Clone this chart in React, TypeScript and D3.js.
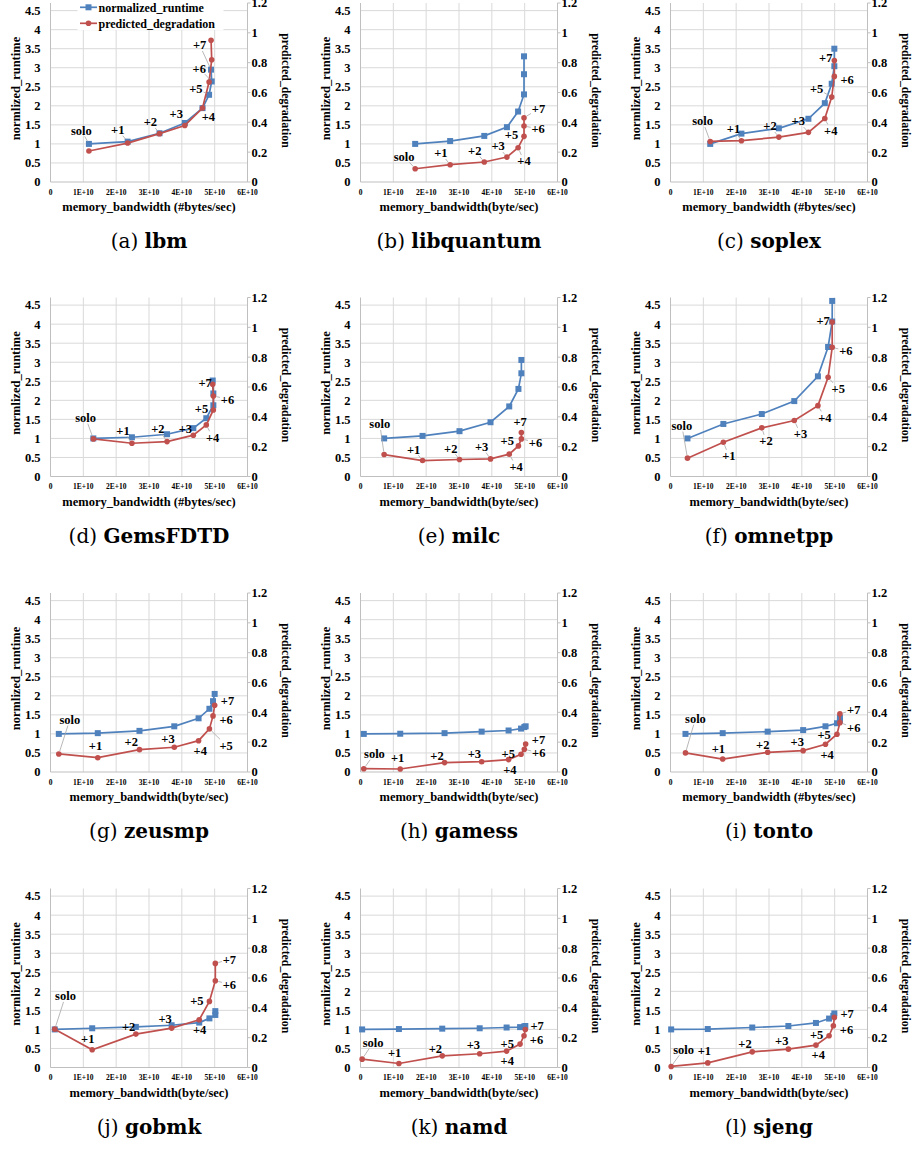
import React from 'react';
import * as d3 from 'd3';

// co-run steps, same for every benchmark
const steps = ['solo', '+1', '+2', '+3', '+4', '+5', '+6', '+7'];

const xTickValues = [0, 1e10, 2e10, 3e10, 4e10, 5e10, 6e10];
const leftTickValues = [0, 0.5, 1, 1.5, 2, 2.5, 3, 3.5, 4, 4.5];
const rightTickValues = [0, 0.2, 0.4, 0.6, 0.8, 1, 1.2];

// memory bandwidth (byte/sec), normalized runtime, predicted degradation
const lbmBandwidth = [1.17e10, 2.35e10, 3.32e10, 4.09e10, 4.63e10, 4.83e10, 4.91e10, 4.89e10];
const lbmRuntime = [1.0, 1.06, 1.28, 1.55, 1.94, 2.29, 2.64, 2.95];
const lbmDegradation = [0.208, 0.261, 0.324, 0.379, 0.496, 0.67, 0.82, 0.95];
const lbmLabelAt = [[0.94e10, 1.355], [2.05e10, 1.373], [3.04e10, 1.573], [3.83e10, 1.79], [4.81e10, 1.72], [4.43e10, 2.46], [4.53e10, 2.99], [4.54e10, 3.6]];

const libquantumBandwidth = [1.665e10, 2.73e10, 3.77e10, 4.46e10, 4.8e10, 4.98e10, 4.98e10, 4.98e10];
const libquantumRuntime = [1.0, 1.075, 1.21, 1.44, 1.85, 2.3, 2.83, 3.3];
const libquantumDegradation = [0.089, 0.116, 0.134, 0.167, 0.23, 0.306, 0.375, 0.431];
const libquantumLabelAt = [[1.33e10, 0.673], [2.45e10, 0.76], [3.48e10, 0.83], [4.19e10, 0.944], [4.98e10, 0.55], [4.6e10, 1.24], [5.41e10, 1.4], [5.42e10, 1.92]];

const soplexBandwidth = [1.21e10, 2.16e10, 3.3e10, 4.2e10, 4.7e10, 4.91e10, 4.99e10, 4.99e10];
const soplexRuntime = [1.0, 1.27, 1.41, 1.66, 2.07, 2.58, 3.04, 3.5];
const soplexDegradation = [0.272, 0.277, 0.301, 0.333, 0.426, 0.569, 0.708, 0.815];
const soplexLabelAt = [[0.98e10, 1.6], [1.92e10, 1.4], [3.03e10, 1.47], [3.89e10, 1.6], [4.88e10, 1.355], [4.45e10, 2.46], [5.38e10, 2.68], [4.73e10, 3.26]];

const gemsBandwidth = [1.305e10, 2.48e10, 3.55e10, 4.35e10, 4.745e10, 4.96e10, 4.96e10, 4.94e10];
const gemsRuntime = [1.0, 1.03, 1.11, 1.27, 1.53, 1.87, 2.18, 2.52];
const gemsDegradation = [0.252, 0.223, 0.234, 0.277, 0.346, 0.446, 0.54, 0.618];
const gemsLabelAt = [[1.07e10, 1.547], [2.21e10, 1.21], [3.27e10, 1.27], [4.11e10, 1.27], [4.94e10, 1.03], [4.6e10, 1.77], [5.39e10, 2.03], [4.71e10, 2.47]];

const milcBandwidth = [0.72e10, 1.89e10, 3.015e10, 3.96e10, 4.53e10, 4.81e10, 4.9e10, 4.9e10];
const milcRuntime = [1.0, 1.066, 1.19, 1.425, 1.84, 2.3, 2.71, 3.06];
const milcDegradation = [0.147, 0.107, 0.114, 0.118, 0.15, 0.205, 0.252, 0.295];
const milcLabelAt = [[0.587e10, 1.38], [1.62e10, 0.717], [2.75e10, 0.743], [3.69e10, 0.787], [4.74e10, 0.262], [4.47e10, 0.944], [5.33e10, 0.9], [4.86e10, 1.44]];

const omnetppBandwidth = [0.517e10, 1.61e10, 2.78e10, 3.77e10, 4.49e10, 4.8e10, 4.925e10, 4.925e10];
const omnetppRuntime = [1.0, 1.38, 1.64, 1.98, 2.63, 3.4, 4.07, 4.61];
const omnetppDegradation = [0.123, 0.23, 0.326, 0.375, 0.475, 0.665, 0.866, 1.036];
const omnetppLabelAt = [[0.345e10, 1.337], [1.78e10, 0.542], [2.91e10, 0.935], [3.96e10, 1.12], [4.7e10, 1.55], [5.11e10, 2.3], [5.34e10, 3.3], [4.65e10, 4.09]];

const zeusmpBandwidth = [0.253e10, 1.44e10, 2.71e10, 3.77e10, 4.51e10, 4.84e10, 4.95e10, 5.0e10];
const zeusmpRuntime = [1.0, 1.02, 1.08, 1.2, 1.41, 1.66, 1.86, 2.05];
const zeusmpDegradation = [0.121, 0.096, 0.15, 0.166, 0.21, 0.289, 0.376, 0.447];
const zeusmpLabelAt = [[0.59e10, 1.38], [1.37e10, 0.7], [2.46e10, 0.787], [3.58e10, 0.874], [4.56e10, 0.55], [5.35e10, 0.7], [5.35e10, 1.37], [5.39e10, 1.88]];

const gamessBandwidth = [0.1e10, 1.21e10, 2.56e10, 3.69e10, 4.51e10, 4.89e10, 4.99e10, 5.03e10];
const gamessRuntime = [1.0, 1.005, 1.02, 1.06, 1.09, 1.14, 1.18, 1.2];
const gamessDegradation = [0.022, 0.02, 0.063, 0.069, 0.083, 0.119, 0.152, 0.188];
const gamessLabelAt = [[0.425e10, 0.48], [1.13e10, 0.376], [2.33e10, 0.437], [3.47e10, 0.48], [4.55e10, 0.061], [4.5e10, 0.48], [5.43e10, 0.507], [5.42e10, 0.848]];

const tontoBandwidth = [0.456e10, 1.59e10, 2.96e10, 4.04e10, 4.72e10, 5.07e10, 5.16e10, 5.16e10];
const tontoRuntime = [1.0, 1.02, 1.06, 1.1, 1.2, 1.28, 1.35, 1.43];
const tontoDegradation = [0.128, 0.087, 0.132, 0.143, 0.186, 0.253, 0.331, 0.39];
const tontoLabelAt = [[0.76e10, 1.4], [1.46e10, 0.612], [2.81e10, 0.717], [3.86e10, 0.787], [4.77e10, 0.455], [4.68e10, 0.98], [5.58e10, 1.17], [5.58e10, 1.63]];

const gobmkBandwidth = [0.13e10, 1.27e10, 2.6e10, 3.69e10, 4.53e10, 4.84e10, 5.02e10, 5.02e10];
const gobmkRuntime = [1.0, 1.03, 1.066, 1.11, 1.18, 1.29, 1.38, 1.48];
const gobmkDegradation = [0.257, 0.119, 0.224, 0.264, 0.32, 0.443, 0.582, 0.698];
const gobmkLabelAt = [[0.456e10, 1.88], [1.135e10, 0.77], [2.38e10, 1.066], [3.49e10, 1.285], [4.54e10, 1.005], [4.46e10, 1.766], [5.45e10, 2.185], [5.45e10, 2.84]];

const namdBandwidth = [0.05e10, 1.17e10, 2.49e10, 3.63e10, 4.45e10, 4.86e10, 4.98e10, 5.02e10];
const namdRuntime = [1.0, 1.01, 1.02, 1.03, 1.05, 1.06, 1.075, 1.09];
const namdDegradation = [0.056, 0.027, 0.078, 0.092, 0.11, 0.157, 0.213, 0.255];
const namdLabelAt = [[0.385e10, 0.656], [1.04e10, 0.393], [2.28e10, 0.507], [3.44e10, 0.594], [4.47e10, 0.192], [4.47e10, 0.63], [5.36e10, 0.743], [5.38e10, 1.11]];

const sjengBandwidth = [0.02e10, 1.135e10, 2.49e10, 3.59e10, 4.43e10, 4.83e10, 4.96e10, 4.99e10];
const sjengRuntime = [1.0, 1.01, 1.05, 1.09, 1.17, 1.285, 1.355, 1.42];
const sjengDegradation = [0.007, 0.031, 0.105, 0.123, 0.15, 0.213, 0.28, 0.336];
const sjengLabelAt = [[0.4e10, 0.48], [1.03e10, 0.437], [2.27e10, 0.63], [3.39e10, 0.7], [4.5e10, 0.332], [4.45e10, 0.857], [5.36e10, 1.005], [5.38e10, 1.425]];

const BYTES = 'memory_bandwidth (#bytes/sec)';
const BYTE = 'memory_bandwidth(byte/sec)';

const panels = [
  { tag: '(a)', name: 'lbm', bw: lbmBandwidth, rt: lbmRuntime, deg: lbmDegradation, labelAt: lbmLabelAt, xTitle: BYTES, leaderTo: 'rt', legend: true },
  { tag: '(b)', name: 'libquantum', bw: libquantumBandwidth, rt: libquantumRuntime, deg: libquantumDegradation, labelAt: libquantumLabelAt, xTitle: BYTE },
  { tag: '(c)', name: 'soplex', bw: soplexBandwidth, rt: soplexRuntime, deg: soplexDegradation, labelAt: soplexLabelAt, xTitle: BYTES },
  { tag: '(d)', name: 'GemsFDTD', bw: gemsBandwidth, rt: gemsRuntime, deg: gemsDegradation, labelAt: gemsLabelAt, xTitle: BYTES },
  { tag: '(e)', name: 'milc', bw: milcBandwidth, rt: milcRuntime, deg: milcDegradation, labelAt: milcLabelAt, xTitle: BYTE },
  { tag: '(f)', name: 'omnetpp', bw: omnetppBandwidth, rt: omnetppRuntime, deg: omnetppDegradation, labelAt: omnetppLabelAt, xTitle: BYTE },
  { tag: '(g)', name: 'zeusmp', bw: zeusmpBandwidth, rt: zeusmpRuntime, deg: zeusmpDegradation, labelAt: zeusmpLabelAt, xTitle: BYTE },
  { tag: '(h)', name: 'gamess', bw: gamessBandwidth, rt: gamessRuntime, deg: gamessDegradation, labelAt: gamessLabelAt, xTitle: BYTE },
  { tag: '(i)', name: 'tonto', bw: tontoBandwidth, rt: tontoRuntime, deg: tontoDegradation, labelAt: tontoLabelAt, xTitle: BYTES },
  { tag: '(j)', name: 'gobmk', bw: gobmkBandwidth, rt: gobmkRuntime, deg: gobmkDegradation, labelAt: gobmkLabelAt, xTitle: BYTE },
  { tag: '(k)', name: 'namd', bw: namdBandwidth, rt: namdRuntime, deg: namdDegradation, labelAt: namdLabelAt, xTitle: BYTE },
  { tag: '(l)', name: 'sjeng', bw: sjengBandwidth, rt: sjengRuntime, deg: sjengDegradation, labelAt: sjengLabelAt, xTitle: BYTE },
];

const colLeft = [50.5, 360.5, 670.5];
const rowTop = [3, 297.5, 593, 888.5];
const plotW = 197;
const plotH = 179;

const BLUE = '#4F81BD';
const RED = '#C0504D';
const GRID = '#D9D9D9';
const AXIS = '#BFBFBF';
const FONT = '"Liberation Serif", "Times New Roman", serif';
const CAPTION_FONT = '"DejaVu Serif", serif';

const x = d3.scaleLinear().domain([0, 6e10]).range([0, plotW]);
const yL = d3.scaleLinear().domain([0, 4.7]).range([plotH, 0]);
const yR = d3.scaleLinear().domain([0, 1.2]).range([plotH, 0]);

const fmtX = (v: number) => (v === 0 ? '0' : `${Math.round(v / 1e10)}E+10`);
const fmtY = (v: number) => `${+v.toFixed(1)}`;

function Panel({ p, left, top }: any) {
  const idx = d3.range(p.bw.length);
  const blueLine = d3.line<number>().x(i => x(p.bw[i])).y(i => yL(p.rt[i]));
  const redLine = d3.line<number>().x(i => x(p.bw[i])).y(i => yR(p.deg[i]));

  return (
    <g transform={`translate(${left},${top})`} fontFamily={FONT} fontWeight="bold">
      {/* grid */}
      {leftTickValues.slice(1).map(v => (
        <line key={'h' + v} x1={0} x2={plotW} y1={yL(v)} y2={yL(v)} stroke={GRID} strokeWidth={1} />
      ))}
      {xTickValues.slice(1, -1).map(v => (
        <line key={'v' + v} x1={x(v)} x2={x(v)} y1={0} y2={plotH} stroke={GRID} strokeWidth={1} />
      ))}
      <line x1={0} x2={0} y1={0} y2={plotH} stroke={AXIS} />
      <line x1={plotW} x2={plotW} y1={0} y2={plotH} stroke={AXIS} />
      <line x1={0} x2={plotW} y1={plotH} y2={plotH} stroke={AXIS} />
      {rightTickValues.map(v => (
        <line key={'rt' + v} x1={plotW} x2={plotW + 3} y1={yR(v)} y2={yR(v)} stroke={AXIS} />
      ))}

      {/* tick labels */}
      {leftTickValues.map(v => (
        <text key={'l' + v} x={-10} y={yL(v)} dy="0.35em" textAnchor="end" fontSize={12.5}>{fmtY(v)}</text>
      ))}
      {rightTickValues.map(v => (
        <text key={'r' + v} x={plotW + 4} y={yR(v)} dy="0.35em" textAnchor="start" fontSize={12.5}>{fmtY(v)}</text>
      ))}
      {xTickValues.map(v => (
        <text key={'x' + v} x={x(v)} y={plotH + 12.5} textAnchor="middle" fontSize={7.5}>{fmtX(v)}</text>
      ))}

      {/* axis titles */}
      <text x={plotW / 2} y={plotH + 29} textAnchor="middle" fontSize={12.5}>{p.xTitle}</text>
      <text transform={`translate(${-31},${plotH / 2 - 4}) rotate(-90)`} textAnchor="middle" fontSize={12.5}>normlized_runtime</text>
      <text transform={`translate(${plotW + 34},${plotH / 2 - 2}) rotate(90)`} textAnchor="middle" fontSize={11.8}>predicted_degradation</text>

      {/* series */}
      <path d={blueLine(idx) || ''} fill="none" stroke={BLUE} strokeWidth={1.7} />
      {idx.map(i => (
        <rect key={'b' + i} x={x(p.bw[i]) - 3} y={yL(p.rt[i]) - 3} width={6} height={6} fill={BLUE} />
      ))}
      <path d={redLine(idx) || ''} fill="none" stroke={RED} strokeWidth={1.7} />
      {idx.map(i => (
        <circle key={'c' + i} cx={x(p.bw[i])} cy={yR(p.deg[i])} r={2.8} fill={RED} />
      ))}

      {/* point labels with leader lines */}
      {idx.map(i => {
        const [lxv, lyv] = p.labelAt[i];
        const lx = x(lxv);
        const ly = yL(lyv);
        const px = x(p.bw[i]);
        const py = p.leaderTo === 'rt' ? yL(p.rt[i]) : yR(p.deg[i]);
        const dx = px - lx;
        const dy = py - ly;
        const d = Math.hypot(dx, dy);
        let leader = null;
        if (d > 13) {
          const hw = steps[i].length > 2 ? 12 : 7.5;
          const hh = 6;
          const t = Math.min(hw / Math.max(Math.abs(dx), 1e-6), hh / Math.max(Math.abs(dy), 1e-6));
          const sx = lx + dx * t;
          const sy = ly + dy * t;
          const ex = px - (dx / d) * 3;
          const ey = py - (dy / d) * 3;
          if (Math.hypot(ex - sx, ey - sy) > 3) {
            leader = <line x1={sx} y1={sy} x2={ex} y2={ey} stroke="#A6A6A6" strokeWidth={0.8} />;
          }
        }
        return (
          <g key={'lab' + i}>
            {leader}
            <text x={lx} y={ly} dy="0.35em" textAnchor="middle" fontSize={12.5}>{steps[i]}</text>
          </g>
        );
      })}

      {p.legend && (
        <g>
          <rect x={27} y={-3} width={146} height={30} fill="white" />
          <line x1={29.5} x2={46.5} y1={4.3} y2={4.3} stroke={BLUE} strokeWidth={1.7} />
          <rect x={35} y={1.3} width={6} height={6} fill={BLUE} />
          <text x={48} y={4.3} dy="0.35em" fontSize={12}>normalized_runtime</text>
          <line x1={29.5} x2={46.5} y1={20.3} y2={20.3} stroke={RED} strokeWidth={1.7} />
          <circle cx={38} cy={20.3} r={2.8} fill={RED} />
          <text x={48} y={20.3} dy="0.35em" fontSize={12}>predicted_degradation</text>
        </g>
      )}

      {/* caption */}
      <text x={plotW / 2} y={plotH + 66} textAnchor="middle" fontSize={20} fontWeight="normal" fontFamily={CAPTION_FONT}>
        {p.tag} <tspan fontWeight="bold">{p.name}</tspan>
      </text>
    </g>
  );
}

export default function App() {
  return (
    <svg width={912} height={1151} style={{ position: 'absolute', left: 0, top: 0, background: 'white' }}>
      <rect width={912} height={1151} fill="white" />
      {panels.map((p, k) => (
        <Panel key={p.name} p={p} left={colLeft[k % 3]} top={rowTop[Math.floor(k / 3)]} />
      ))}
    </svg>
  );
}
